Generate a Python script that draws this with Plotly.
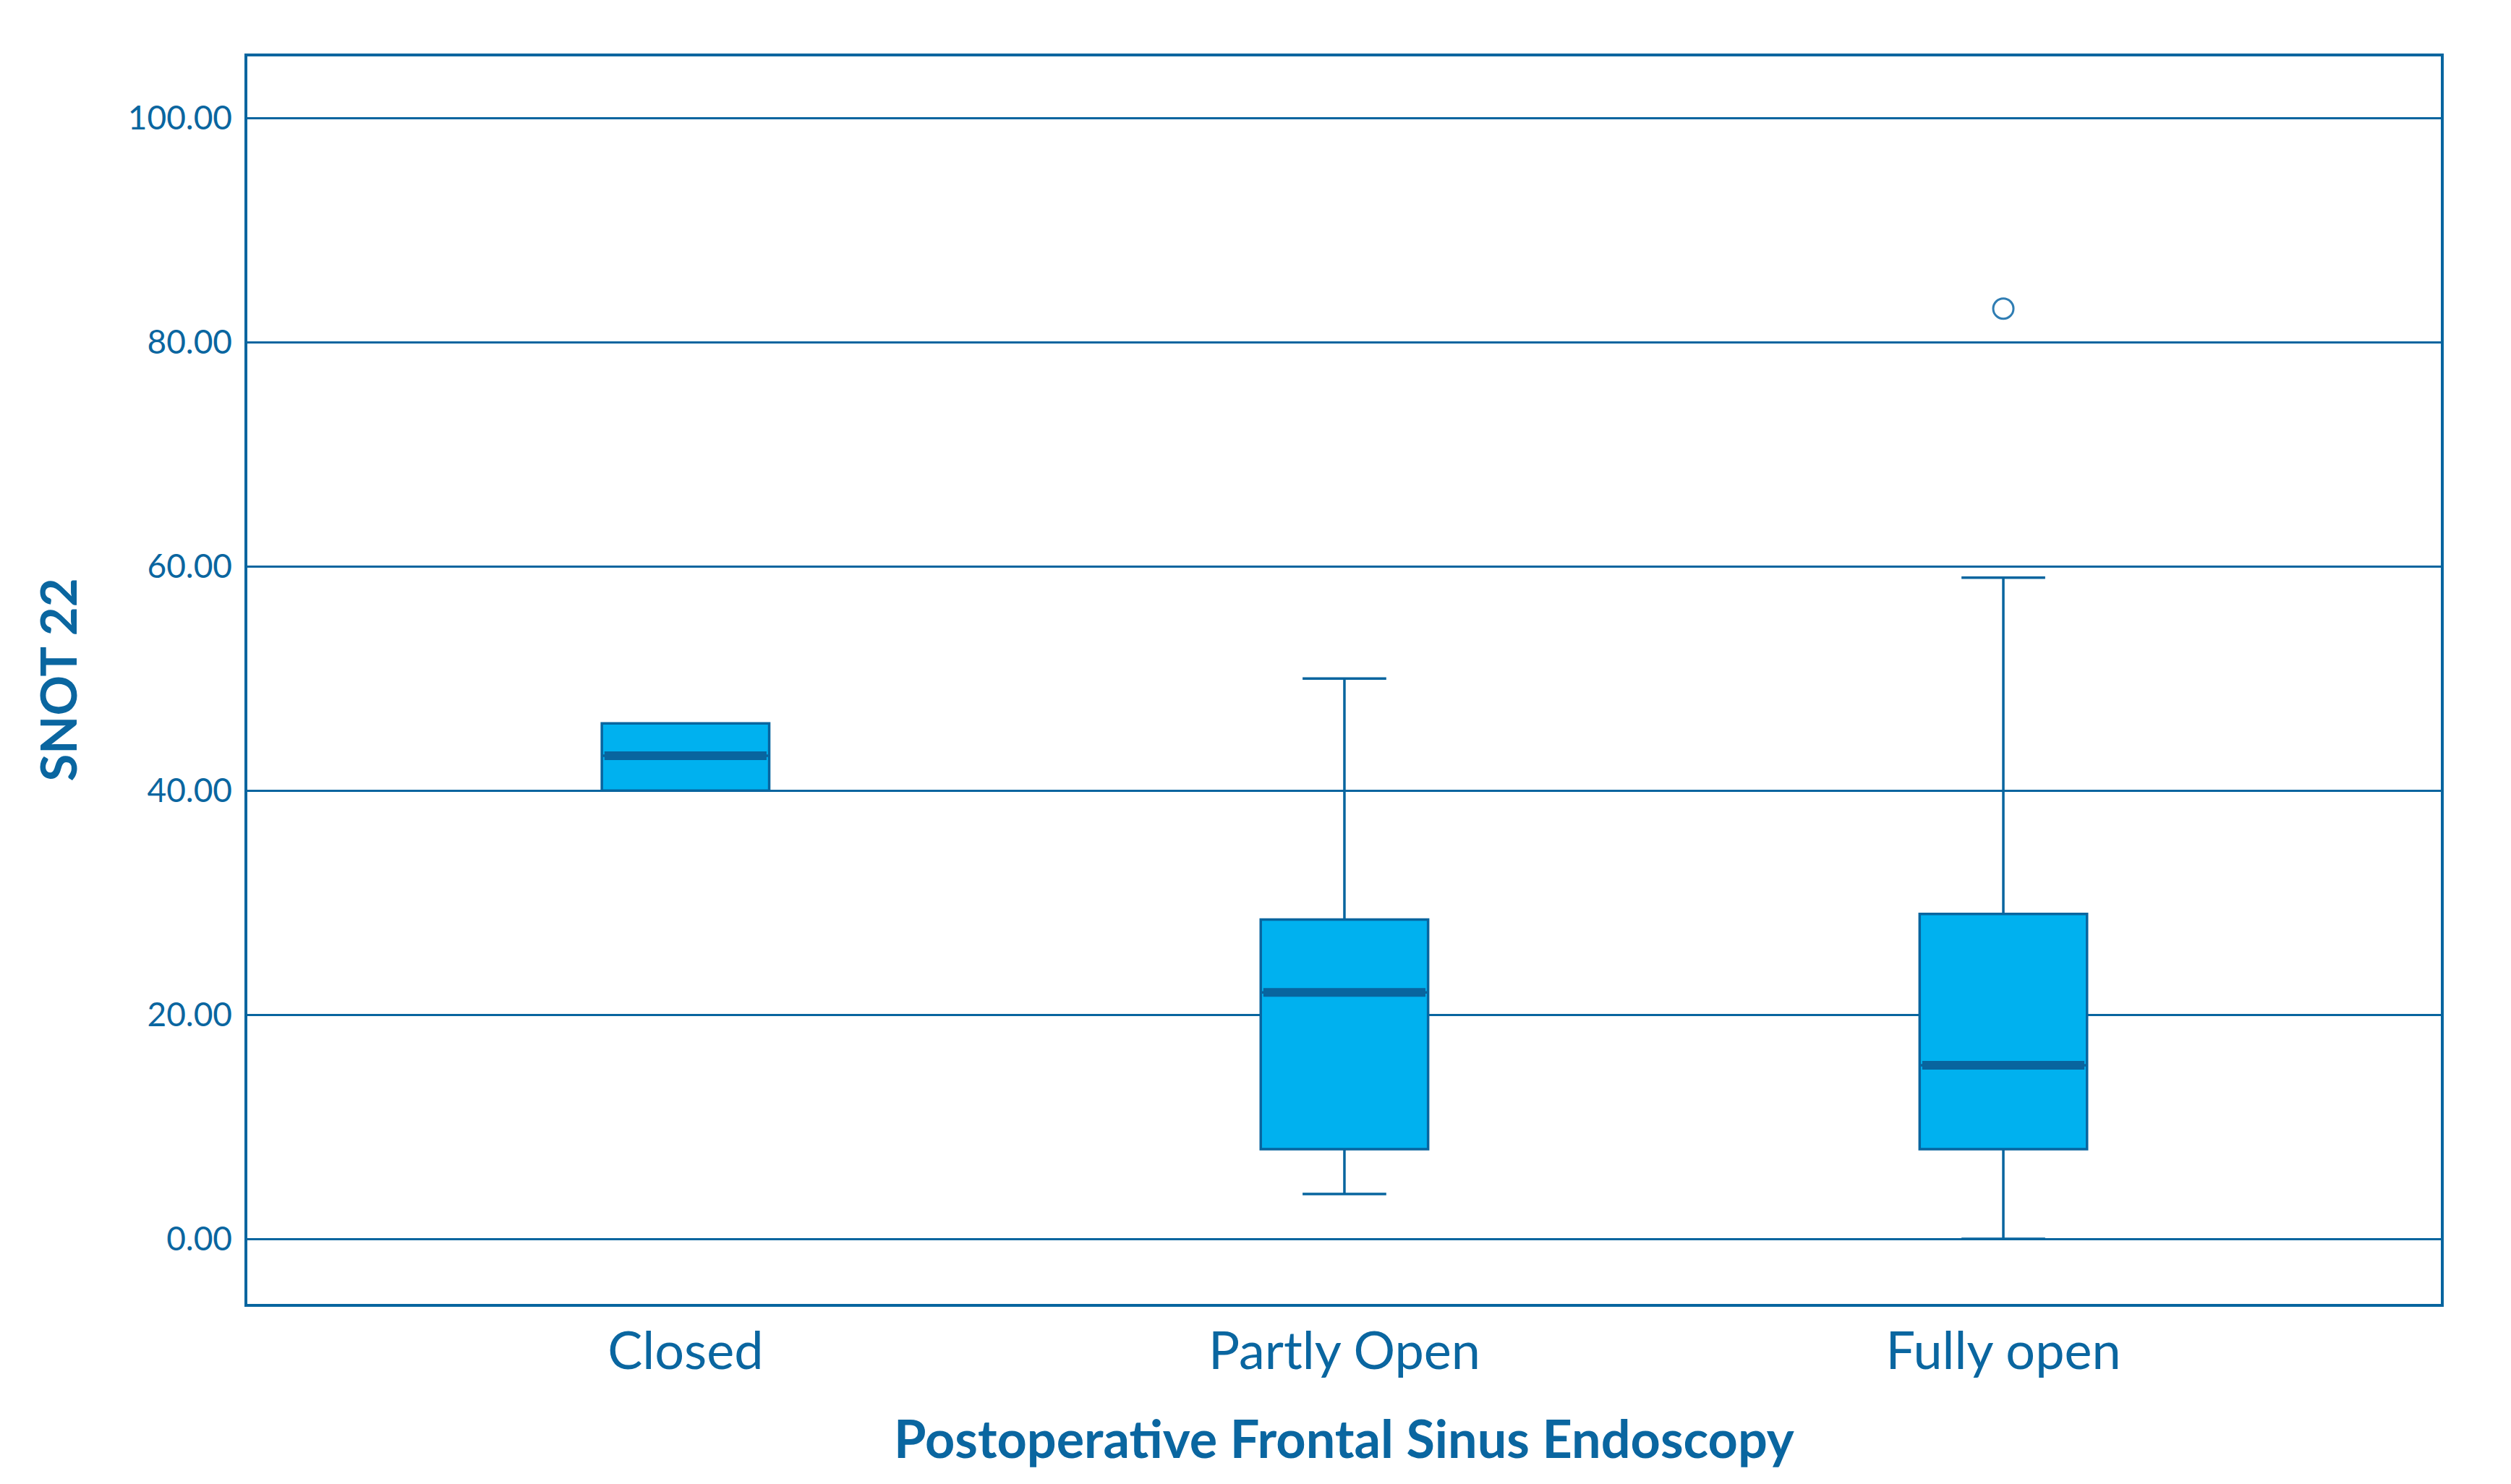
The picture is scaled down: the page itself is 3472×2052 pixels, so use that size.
import plotly.graph_objects as go

# ---- data ----
categories = ["Closed", "Partly Open", "Fully open"]
q1_vals = [40.0, 8.0, 8.0]
median_vals = [43.1, 22.0, 15.5]
q3_vals = [46.0, 28.5, 29.0]
lower_whisker = [40.0, 4.0, 0.0]
upper_whisker = [46.0, 50.0, 59.0]
outlier_category = ["Fully open"]
outlier_values = [83.0]
y_tick_values = [0, 20, 40, 60, 80, 100]

# ---- styling ----
LINE = "#08659F"
FILL = "#00B1EF"
TEXT = "#0A66A0"
FONT = "Lato"
BOX_W = 0.254

positions = list(range(len(categories)))

fig = go.Figure()

fig.add_trace(go.Box(
    x=positions,
    q1=q1_vals,
    median=median_vals,
    q3=q3_vals,
    lowerfence=lower_whisker,
    upperfence=upper_whisker,
    width=BOX_W,
    whiskerwidth=0.5,
    fillcolor=FILL,
    line=dict(color=LINE, width=3.5),
    boxpoints=False,
    showlegend=False,
    hoverinfo="skip",
))

# thick median bars (SPSS style)
mx, my = [], []
for p, m in zip(positions, median_vals):
    mx += [p - BOX_W / 2 + 0.004, p + BOX_W / 2 - 0.004, None]
    my += [m, m, None]
fig.add_trace(go.Scatter(
    x=mx, y=my, mode="lines",
    line=dict(color=LINE, width=12),
    showlegend=False, hoverinfo="skip",
))

# outlier
fig.add_trace(go.Scatter(
    x=[categories.index(c) for c in outlier_category],
    y=outlier_values,
    mode="markers",
    marker=dict(symbol="circle-open", size=28, color="#2F7DB3", line=dict(width=3, color="#2F7DB3")),
    showlegend=False, hoverinfo="skip",
))

fig.update_layout(
    width=3472, height=2052,
    margin=dict(l=334, r=105, t=70, b=257),
    paper_bgcolor="white",
    plot_bgcolor="white",
    font=dict(family=FONT, color=TEXT),
    showlegend=False,
    xaxis=dict(
        range=[-0.665, 2.664],
        tickmode="array",
        tickvals=positions,
        ticktext=categories,
        tickfont=dict(size=72, family=FONT, color=TEXT),
        showgrid=False,
        zeroline=False,
        showline=True, mirror=True, linecolor=LINE, linewidth=3.5,
        ticks="",
        ticklabelstandoff=0,
    ),
    yaxis=dict(
        range=[-5.8, 105.5],
        tickmode="array",
        tickvals=y_tick_values,
        ticktext=[f"{v:.2f}" for v in y_tick_values],
        tickfont=dict(size=46, family=FONT, color=TEXT),
        showgrid=True, gridcolor=LINE, gridwidth=3,
        zeroline=False,
        showline=True, mirror=True, linecolor=LINE, linewidth=3.5,
        ticks="",
        ticklabelstandoff=8,
    ),
    annotations=[
        dict(text="<b>Postoperative Frontal Sinus Endoscopy</b>",
             xref="paper", yref="paper", x=0.5, y=0,
             xanchor="center", yanchor="middle", yshift=-185,
             showarrow=False, font=dict(size=72, family=FONT, color=TEXT)),
        dict(text="<b>SNOT 22</b>",
             xref="paper", yref="paper", x=0, y=0.5,
             xanchor="center", yanchor="middle", xshift=-263,
             textangle=-90,
             showarrow=False, font=dict(size=69, family=FONT, color=TEXT)),
    ],
)

fig.write_html("out.html")
